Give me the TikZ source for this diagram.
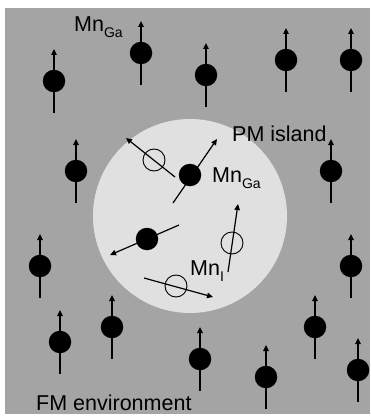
\documentclass[tikz,border=0pt]{standalone}
\usepackage{fontspec}
\setmainfont{Liberation Sans}
\usetikzlibrary{arrows.meta}
\definecolor{bggray}{RGB}{164,164,164}
\definecolor{islandgray}{RGB}{224,224,224}
\newcommand{\mnlabel}[1]{Mn\raisebox{-6pt}{\fontsize{14}{14}\selectfont #1}}
\begin{document}
\begin{tikzpicture}[x=1pt,y=-1pt,
  spin/.style={line width=1.2pt,-{Triangle[length=6pt,width=5.5pt]}},
  fmdot/.style={circle,fill=black,minimum size=22.5pt,inner sep=0pt},
  hole/.style={circle,draw=black,line width=0.9pt,minimum size=22pt,inner sep=0pt},
  lab/.style={anchor=base west,inner sep=0pt,font=\fontsize{21.5}{21.5}\selectfont}]
\useasboundingbox (0,0) rectangle (370,417);
\fill[white] (0,0) rectangle (370,417);
\fill[bggray] (5,8) rectangle (370,414);
\fill[islandgray] (190,216) circle[radius=97];
% FM environment spins
\foreach \x/\y [count=\i] in {54/81,141/53,206/75,286/60,351/60,76/171,331/171,40/266,351/266,60/342,112/327,200/359,266/377,315/327,358/370}{
  \node[fmdot] (f\i) at (\x,\y) {};
  \draw[spin] ([yshift=-32pt]f\i.center) -- ([yshift=32pt]f\i.center);
}
% PM island spins
\coordinate (a1s) at (173,203); \coordinate (a1e) at (217,139);
\coordinate (a2s) at (175,177); \coordinate (a2e) at (126,138);
\coordinate (a3s) at (179,225); \coordinate (a3e) at (110,255);
\coordinate (a4s) at (228,272); \coordinate (a4e) at (238,204);
\coordinate (a5s) at (144,278); \coordinate (a5e) at (213,297);
\draw[spin] (a1s) -- (a1e);
\draw[spin] (a2s) -- (a2e);
\draw[spin] (a3s) -- (a3e);
\draw[spin] (a4s) -- (a4e);
\draw[spin] (a5s) -- (a5e);
\node[fmdot] (p1) at (190,175) {};
\node[hole] (h1) at (154,160) {};
\node[fmdot] (p2) at (147,239) {};
\node[hole] (h2) at (232,243) {};
\node[hole] (h3) at (176,286) {};
% labels
\node[lab] (l1) at (74,32) {\mnlabel{Ga}};
\node[lab] (l2) at (232,141) {PM island};
\node[lab] (l3) at (212,182) {\mnlabel{Ga}};
\node[lab] (l4) at (190,275) {\mnlabel{I}};
\node[lab] (l5) at (36,410) {FM environment};
\end{tikzpicture}
\end{document}
